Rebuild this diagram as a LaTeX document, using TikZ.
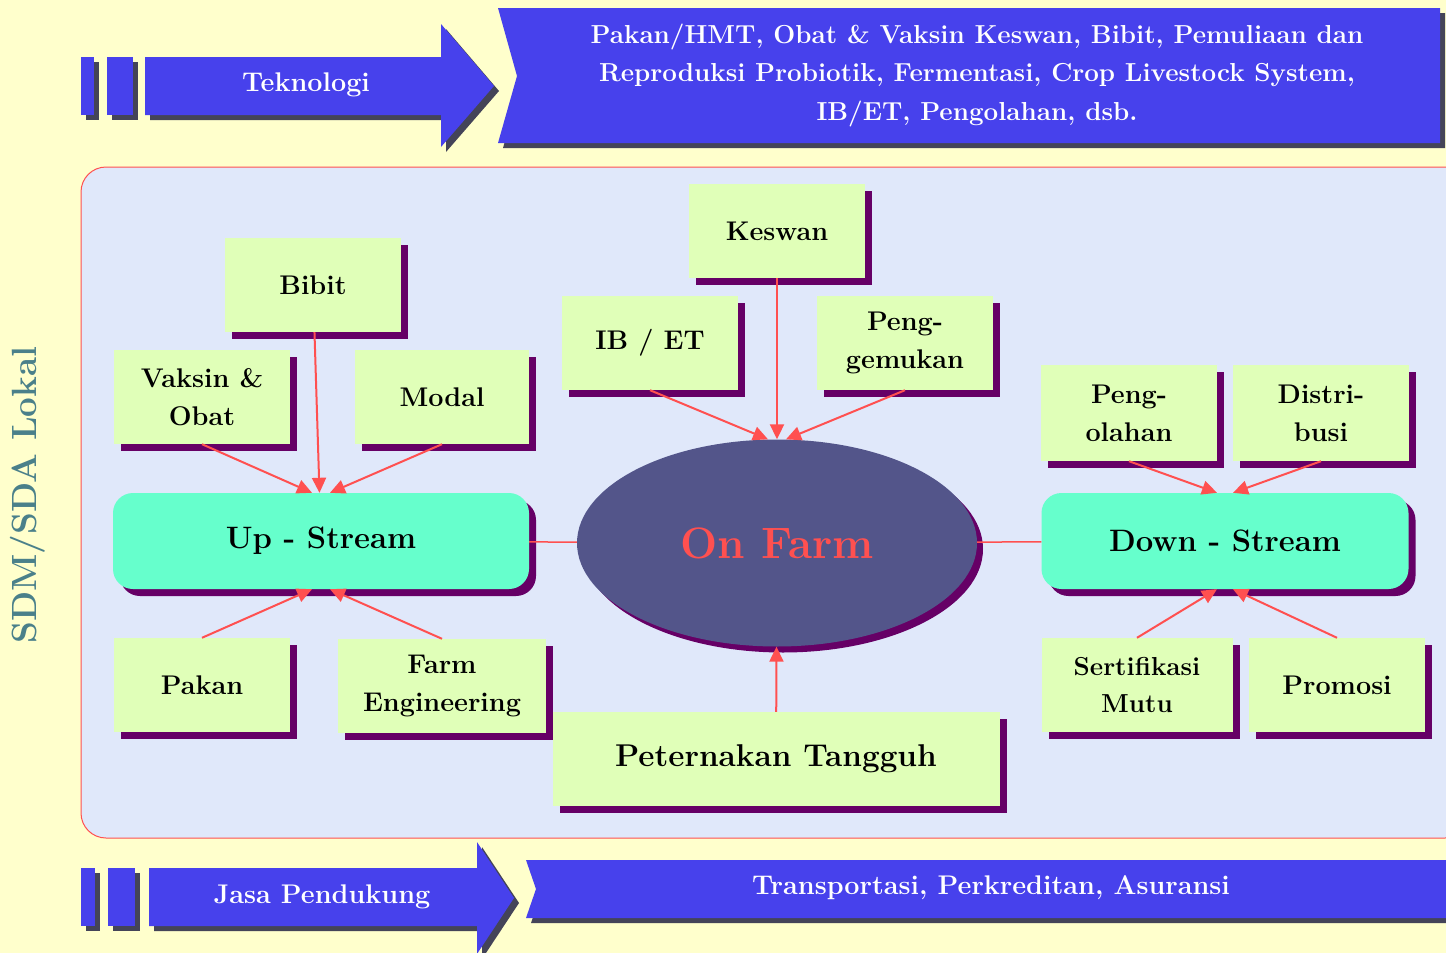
\documentclass[tikz,border=0pt]{standalone}
\usepackage{xcolor}
\usepackage{tikz}
\usetikzlibrary{positioning, shapes.geometric, shadows, arrows.meta}
\definecolor{BG}{HTML}{FFFFCC}
\definecolor{P1}{HTML}{E0E8FA}
\definecolor{R1}{HTML}{FF5050}
\definecolor{B1}{HTML}{4741EC}
\definecolor{B2}{HTML}{444458}
\definecolor{G1}{HTML}{E0FFB8}
\definecolor{G2}{HTML}{66FFCC}
\definecolor{V1}{HTML}{660066}
\definecolor{F1}{HTML}{53558A}
\definecolor{T1}{HTML}{4A808A}

\begin{document}
\begin{tikzpicture}[
	x=1pt, y=-1pt,
	band/.style = {fill=B1, drop shadow={shadow xshift=5pt, shadow yshift=-5pt, opacity=1, fill=B2}},
	bandtext/.style = {text=white, align=center, font=\fontsize{26}{38.5}\selectfont\bfseries},
	box/.style = {rectangle, fill=G1, minimum width=176pt, minimum height=94pt, inner sep=0pt, align=center,
		font=\fontsize{27}{38}\selectfont\bfseries, drop shadow={shadow xshift=7pt, shadow yshift=-7pt, opacity=1, fill=V1}},
	stream/.style = {rectangle, rounded corners=20pt, fill=G2, minimum height=96pt, font=\fontsize{31}{36}\selectfont\bfseries,
		drop shadow={shadow xshift=7pt, shadow yshift=-7pt, opacity=1, fill=V1}},
	farm/.style = {ellipse, fill=F1, minimum width=400pt, minimum height=207pt, text=R1, font=\fontsize{44}{50}\selectfont\bfseries,
		drop shadow={shadow xshift=6pt, shadow yshift=-6pt, opacity=1, fill=V1}},
	link/.style = {draw=R1, line width=1.5pt},
	every edge/.style = {draw=R1, line width=2pt, -{Triangle[length=15pt, width=14pt]}}
]
  \useasboundingbox (0,0) rectangle (1446,953);
  \fill[BG] (0,0) rectangle (1446,953);

  % Teknologi / Jasa Pendukung bands
  \path[band] (81,57) rectangle (94,115);
  \path[band] (107,57) rectangle (133,115);
  \path[band] (145,57) -- (441,57) -- (441,24) -- (494,86) -- (441,147) -- (441,115) -- (145,115) -- cycle;
  \path[band] (498,8) -- (1440,8) -- (1440,143) -- (498,143) -- (517,76) -- cycle;
  \path[band] (81,868) rectangle (95,926);
  \path[band] (108,868) rectangle (135,926);
  \path[band] (149,868) -- (477,868) -- (477,842) -- (514,898) -- (477,954) -- (477,926) -- (149,926) -- cycle;
  \path[band] (526,860) -- (1470,860) -- (1470,918) -- (526,918) -- (536,889) -- cycle;

  \node[bandtext, font=\fontsize{27}{32}\selectfont\bfseries] at (306,85) (tek) {Teknologi};
  \node[bandtext] at (977,75) (tekisi) {Pakan/HMT, Obat \& Vaksin Keswan, Bibit, Pemuliaan dan\\
    Reproduksi Probiotik, Fermentasi, Crop Livestock System,\\ IB/ET, Pengolahan, dsb.};
  \node[bandtext, font=\fontsize{27}{32}\selectfont\bfseries] at (322,897) (jasa) {Jasa Pendukung};
  \node[bandtext, font=\fontsize{27}{32}\selectfont\bfseries] at (991,888) (jasaisi) {Transportasi, Perkreditan, Asuransi};

  \node[rotate=90, text=T1, font=\fontsize{35}{40}\selectfont\bfseries] at (28,495) (sdm) {SDM/SDA Lokal};

  % panel
  \draw[R1, fill=P1, line width=1pt, rounded corners=25pt] (81,167) rectangle (1470,838);

  % Define vertices
  \node[box] at (313,285) (bibit) {Bibit};
  \node[box] at (202,397) (vaksin) {Vaksin \&\\Obat};
  \node[box, minimum width=174pt] at (442,397) (modal) {Modal};
  \node[stream, minimum width=416pt] at (321,541) (ups) {Up - Stream};
  \node[box] at (202,685) (pakan) {Pakan};
  \node[box, minimum width=208pt] at (442,686) (farmeng) {Farm\\Engineering};
  \node[box] at (777,231) (keswan) {Keswan};
  \node[box] at (650,343) (ibet) {IB / ET};
  \node[box] at (905,343) (gemuk) {Peng-\\gemukan};
  \node[farm] at (777,543) (onfarm) {On Farm};
  \node[box, minimum width=447pt, font=\fontsize{31.5}{36}\selectfont\bfseries] at (776,759) (tangguh) {Peternakan Tangguh};
  \node[box, minimum height=96pt] at (1129,413) (olah) {Peng-\\olahan};
  \node[box, minimum height=96pt] at (1321,413) (distri) {Distri-\\busi};
  \node[stream, minimum width=367pt] at (1225,541) (downs) {Down - Stream};
  \node[box, minimum width=191pt, font=\fontsize{26}{37}\selectfont\bfseries] at (1137,685) (mutu) {Sertifikasi\\Mutu};
  \node[box] at (1337,685) (promosi) {Promosi};

  \draw (bibit) edge (ups);
  \draw (vaksin.south) edge ([xshift=-9pt]ups.north);
  \draw (modal.south) edge ([xshift=9pt]ups.north);
  \draw (pakan.north) edge ([xshift=-9pt]ups.south);
  \draw (farmeng.north) edge ([xshift=9pt]ups.south);
  \draw (keswan) edge (onfarm);
  \draw (ibet.south) edge ([xshift=-9pt]onfarm.north);
  \draw (gemuk.south) edge ([xshift=9pt]onfarm.north);
  \draw (tangguh) edge (onfarm);
  \draw (olah.south) edge ([xshift=-8pt]downs.north);
  \draw (distri.south) edge ([xshift=8pt]downs.north);
  \draw (mutu.north) edge ([xshift=-8pt]downs.south);
  \draw (promosi.north) edge ([xshift=8pt]downs.south);
  \draw[link] (ups) -- (onfarm);
  \draw[link] (onfarm) -- (downs);
\end{tikzpicture}
\end{document}
